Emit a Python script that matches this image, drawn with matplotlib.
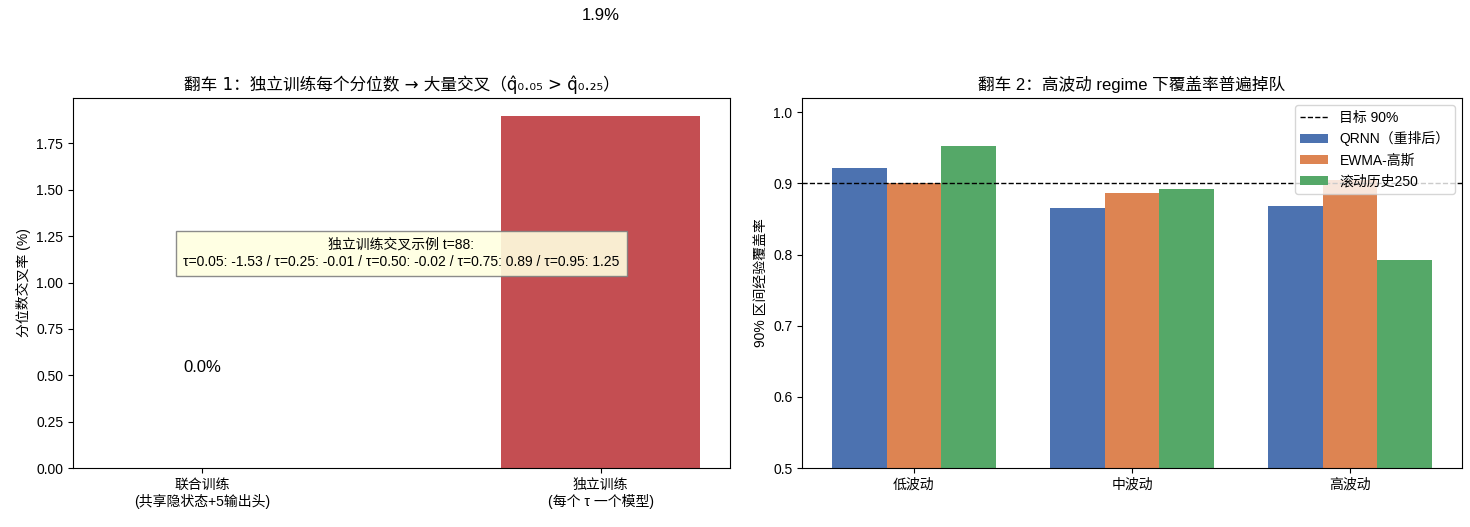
import matplotlib
matplotlib.use("Agg")
import matplotlib.pyplot as plt
import numpy as np

plt.rcParams['font.family'] = ['Liberation Sans', 'Noto Sans CJK SC', 'DejaVu Sans']
plt.rcParams['axes.unicode_minus'] = False

# Left panel data
train_modes = ["联合训练\n(共享隐状态+5输出头)", "独立训练\n(每个 τ 一个模型)"]
cross_rates = [0.0, 1.9]
mode_colors = ["#4C72B0", "#C44E52"]
example_text = ("独立训练交叉示例 t=88:\n"
                "τ=0.05: -1.53 / τ=0.25: -0.01 / τ=0.50: -0.02 / τ=0.75: 0.89 / τ=0.95: 1.25")

# Right panel data
regimes = ["低波动", "中波动", "高波动"]
series_names = ["QRNN（重排后）", "EWMA-高斯", "滚动历史250"]
qrnn_cov = [0.921, 0.865, 0.868]
ewma_cov = [0.900, 0.886, 0.905]
hist_cov = [0.952, 0.892, 0.793]
series_colors = ["#4C72B0", "#DD8452", "#55A868"]
target = 0.90

fig = plt.figure(figsize=(14.7, 5.27), dpi=100)
ax1 = fig.add_axes([73/1470, 1-468/527, (730-73)/1470, (468-98)/527])
ax2 = fig.add_axes([802/1470, 1-468/527, (1462-802)/1470, (468-98)/527])

# Left
x1 = np.arange(len(train_modes))
ax1.bar(x1, cross_rates, width=0.5, color=mode_colors)
for xi, v in zip(x1, cross_rates):
    ax1.text(xi, v + 0.5, f"{v:.1f}%", ha='center', va='bottom', fontsize=12, clip_on=False)
ax1.set_xticks(x1)
ax1.set_xticklabels(train_modes, fontsize=10)
ax1.set_ylabel("分位数交叉率 (%)", fontsize=10)
ax1.set_title("翻车 1：独立训练每个分位数 → 大量交叉（q\u0302₀.₀₅ > q\u0302₀.₂₅）",
              fontsize=12, family=['DejaVu Sans', 'Noto Sans CJK SC'])
ax1.text(0.5, 0.58, example_text, transform=ax1.transAxes, ha='center', va='center',
         fontsize=10, linespacing=1.3,
         bbox=dict(boxstyle='square,pad=0.5', facecolor='lightyellow', edgecolor='gray', alpha=0.9))

# Right
x2 = np.arange(len(regimes))
w = 0.25
for i, (vals, name, col) in enumerate(zip([qrnn_cov, ewma_cov, hist_cov], series_names, series_colors)):
    ax2.bar(x2 + (i - 1) * w, vals, width=w, color=col, label=name)
ax2.axhline(target, color='k', linestyle='--', linewidth=1, label="目标 90%")
ax2.set_ylim(0.5, 1.02)
ax2.set_xticks(x2)
ax2.set_xticklabels(regimes, fontsize=10)
ax2.set_ylabel("90% 区间经验覆盖率", fontsize=10)
ax2.set_title("翻车 2：高波动 regime 下覆盖率普遍掉队", fontsize=12)
ax2.legend(loc='upper right', fontsize=10)

fig.savefig("out.png", dpi=100)
